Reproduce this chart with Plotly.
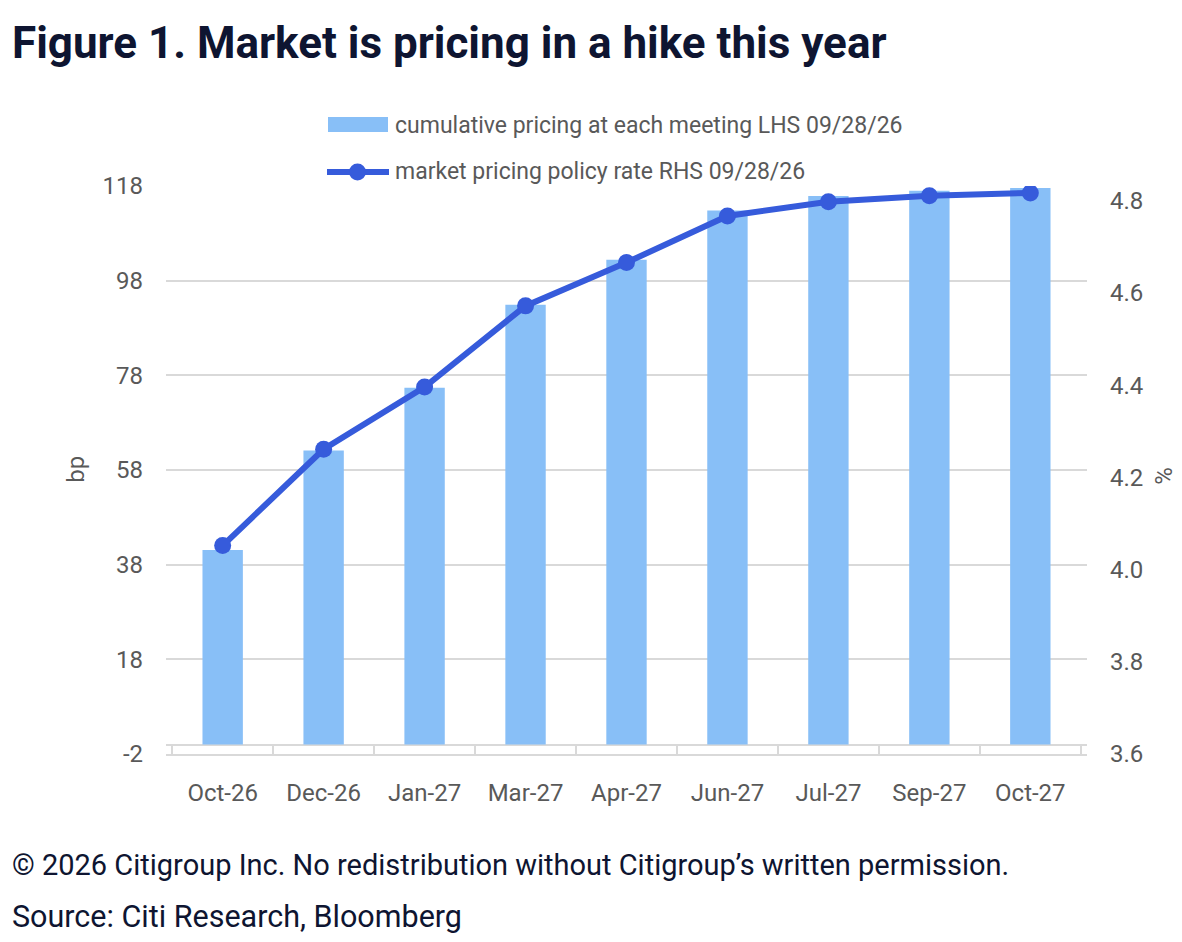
import plotly.graph_objects as go

# ---- data ----
meetings = ["Oct-26", "Dec-26", "Jan-27", "Mar-27", "Apr-27", "Jun-27", "Jul-27", "Sep-27", "Oct-27"]
cumulative_bp = [41.1, 62.1, 75.4, 92.9, 102.4, 112.8, 115.9, 117.0, 117.6]
policy_rate_pct = [4.052, 4.261, 4.396, 4.572, 4.666, 4.767, 4.798, 4.811, 4.817]
bar_name = "cumulative pricing at each meeting LHS 09/28/26"
line_name = "market pricing policy rate RHS 09/28/26"
left_ticks = [-2, 18, 38, 58, 78, 98, 118]
right_ticks = [3.6, 3.8, 4.0, 4.2, 4.4, 4.6, 4.8]

title_text = "Figure 1. Market is pricing in a hike this year"
footer1 = "© 2026 Citigroup Inc. No redistribution without Citigroup’s written permission."
footer2 = "Source: Citi Research, Bloomberg"

# ---- style ----
W, H = 1182, 942
X0, X1, Y0, Y1 = 166, 1087, 186, 754.5
BAR_C = "#88BFF7"
LINE_C = "#365BDB"
GRID_C = "#D9D9D9"
TXT_C = "#595959"
NAVY = "#0E1531"
FONT = "Roboto, Liberation Sans, sans-serif"
CH = 24  # chart text size


def px_x(x):
    return (x - X0) / (X1 - X0)


def px_y(y):
    return (Y1 - y) / (Y1 - Y0)


fig = go.Figure()
fig.add_trace(go.Bar(x=meetings, y=cumulative_bp, name=bar_name, marker=dict(color=BAR_C, line=dict(width=0)),
                     yaxis="y", showlegend=False))
fig.add_trace(go.Scatter(x=meetings, y=policy_rate_pct, name=line_name, mode="lines+markers",
                         line=dict(color=LINE_C, width=6), marker=dict(color=LINE_C, size=17),
                         yaxis="y2", showlegend=False))

shapes = [
    # legend swatches
    dict(type="rect", xref="paper", yref="paper", x0=px_x(328), x1=px_x(388), y0=px_y(132), y1=px_y(117),
         fillcolor=BAR_C, line=dict(width=0)),
    dict(type="line", xref="paper", yref="paper", x0=px_x(327), x1=px_x(389), y0=px_y(172), y1=px_y(172),
         line=dict(color=LINE_C, width=6)),
    dict(type="circle", xref="paper", yref="paper", x0=px_x(349), x1=px_x(366), y0=px_y(180.5), y1=px_y(163.5),
         fillcolor=LINE_C, line=dict(width=0)),
]

annotations = [
    dict(text=title_text, xref="paper", yref="paper", x=px_x(10), y=px_y(43), xanchor="left", yanchor="middle",
         showarrow=False, font=dict(family=FONT, size=44, color=NAVY, weight="bold")),
    dict(text=footer1, xref="paper", yref="paper", x=px_x(10), y=px_y(866), xanchor="left", yanchor="middle",
         showarrow=False, font=dict(family=FONT, size=29, color=NAVY)),
    dict(text=footer2, xref="paper", yref="paper", x=px_x(10), y=px_y(917), xanchor="left", yanchor="middle",
         showarrow=False, font=dict(family=FONT, size=30.5, color=NAVY)),
    dict(text=bar_name, xref="paper", yref="paper", x=px_x(393), y=px_y(125), xanchor="left", yanchor="middle",
         showarrow=False, font=dict(family=FONT, size=23, color=TXT_C)),
    dict(text=line_name, xref="paper", yref="paper", x=px_x(393), y=px_y(171), xanchor="left", yanchor="middle",
         showarrow=False, font=dict(family=FONT, size=23, color=TXT_C)),
    dict(text="bp", xref="paper", yref="paper", x=px_x(76), y=px_y(470), xanchor="center", yanchor="middle",
         textangle=-90, showarrow=False, font=dict(family=FONT, size=CH, color=TXT_C)),
    dict(text="%", xref="paper", yref="paper", x=px_x(1164), y=px_y(476), xanchor="center", yanchor="middle",
         textangle=-90, showarrow=False, font=dict(family=FONT, size=CH, color=TXT_C)),
]

fig.update_layout(
    width=W, height=H,
    margin=dict(l=X0, r=W - X1, t=Y0, b=H - Y1, autoexpand=False),
    paper_bgcolor="white", plot_bgcolor="white",
    bargap=0.6,
    font=dict(family=FONT, size=CH, color=TXT_C),
    shapes=shapes, annotations=annotations,
    xaxis=dict(type="category", showgrid=False, showline=True, linecolor=GRID_C, linewidth=2,
               ticks="inside", tickson="boundaries", ticklen=9, tickwidth=2, tickcolor=GRID_C,
               tickfont=dict(family=FONT, size=CH, color=TXT_C), ticklabelstandoff=16),
    yaxis=dict(range=[left_ticks[0], left_ticks[-1]], tickvals=left_ticks,
               ticktext=[str(v) for v in left_ticks], showgrid=True, gridcolor=GRID_C,
               gridwidth=2, zeroline=True, zerolinecolor=GRID_C, zerolinewidth=2, showline=False,
               ticks="", tickfont=dict(family=FONT, size=CH, color=TXT_C), ticklabelstandoff=22),
    yaxis2=dict(overlaying="y", side="right", range=[3.6, 4.832], tickvals=right_ticks,
                ticktext=[f"{v:.1f}" for v in right_ticks],
                showgrid=False, zeroline=False, showline=False, ticks="",
                tickfont=dict(family=FONT, size=CH, color=TXT_C), ticklabelstandoff=22),
)

fig.write_html("out.html", config={"displayModeBar": False},
               post_script="document.body.style.margin='0px';")
